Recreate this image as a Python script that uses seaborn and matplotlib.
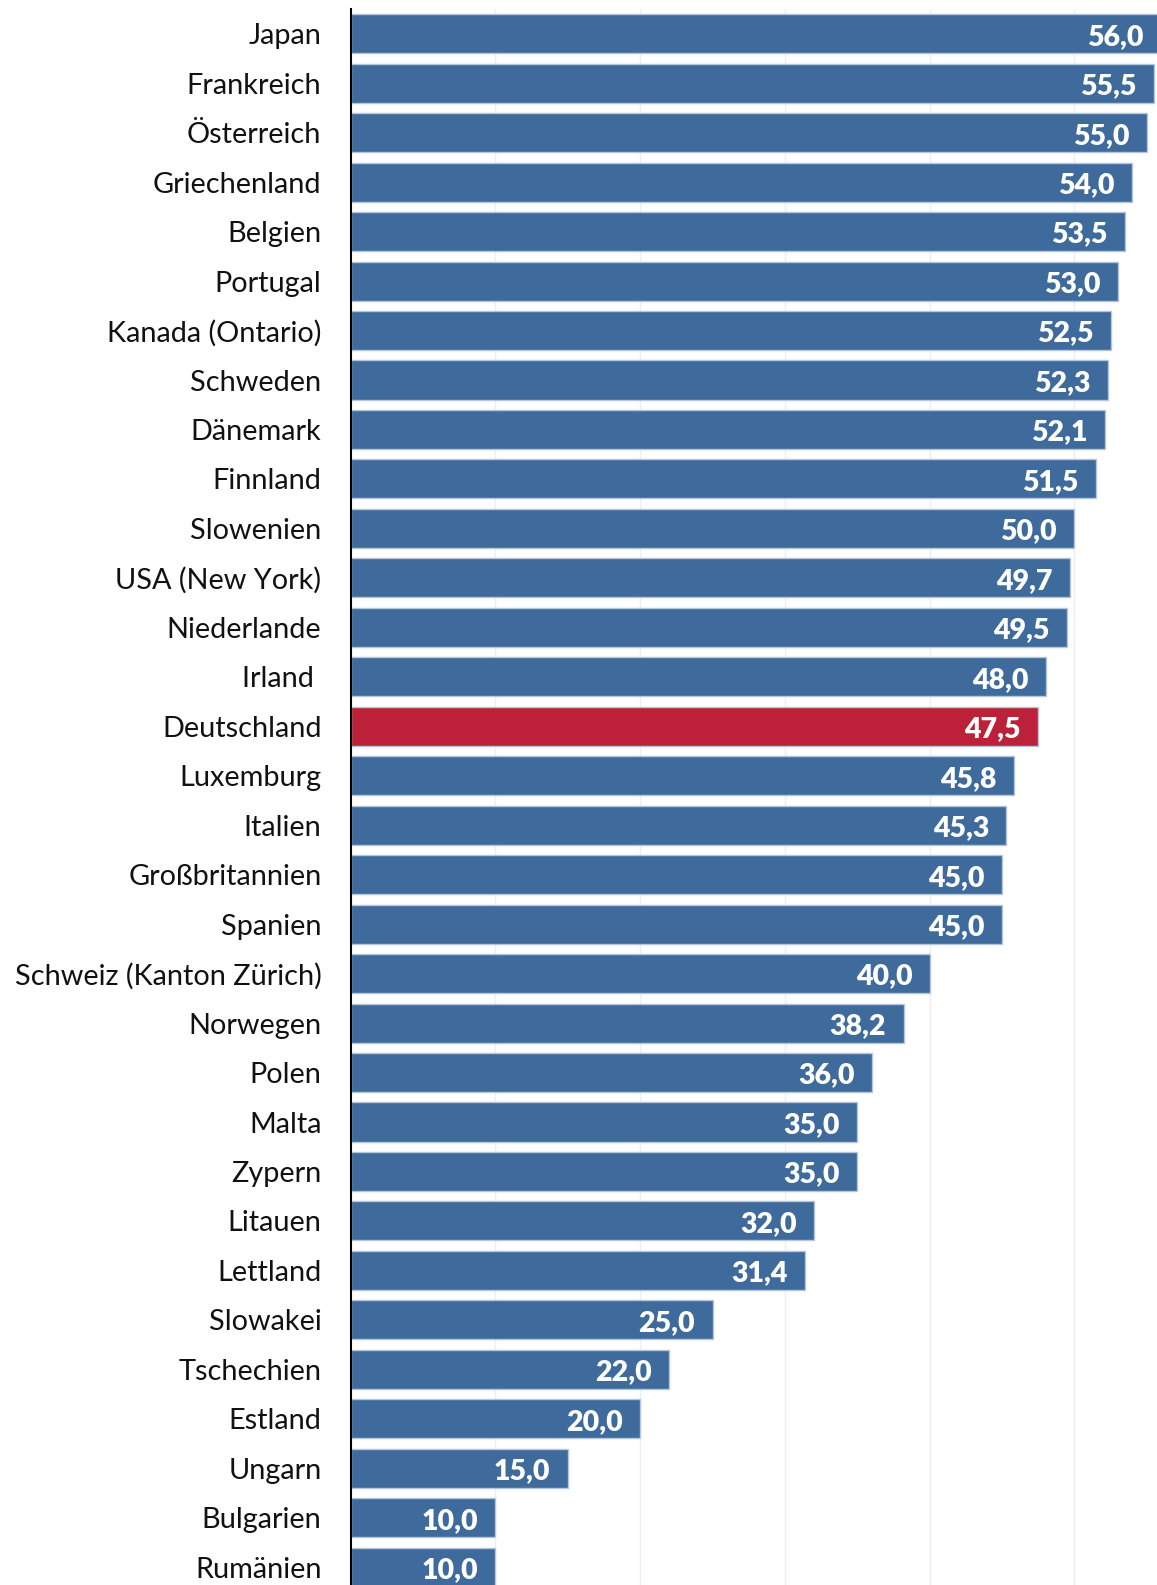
import numpy as np
import pandas as pd
import matplotlib.pyplot as plt
import seaborn as sns

countries = [
    "Japan", "Frankreich", "Österreich", "Griechenland", "Belgien", "Portugal",
    "Kanada (Ontario)", "Schweden", "Dänemark", "Finnland", "Slowenien",
    "USA (New York)", "Niederlande", "Irland ", "Deutschland", "Luxemburg",
    "Italien", "Großbritannien", "Spanien", "Schweiz (Kanton Zürich)",
    "Norwegen", "Polen", "Malta", "Zypern", "Litauen", "Lettland",
    "Slowakei", "Tschechien", "Estland", "Ungarn", "Bulgarien", "Rumänien",
]
values = [
    56.0, 55.5, 55.0, 54.0, 53.5, 53.0, 52.5, 52.3, 52.1, 51.5, 50.0,
    49.7, 49.5, 48.0, 47.5, 45.8, 45.3, 45.0, 45.0, 40.0, 38.2, 36.0,
    35.0, 35.0, 32.0, 31.4, 25.0, 22.0, 20.0, 15.0, 10.0, 10.0,
]
highlight = "Deutschland"

BLUE = "#3E6A9C"
RED = "#BC2139"

df = pd.DataFrame({"Land": countries, "Wert": values})
palette = [RED if c == highlight else BLUE for c in countries]

sns.set_style("white")
plt.rcParams["font.family"] = ["Lato", "DejaVu Sans"]

fig = plt.figure(figsize=(11.57, 15.85), dpi=100)
ax = fig.add_axes([0.303, 0.0, 0.697, 0.9943])

sns.barplot(data=df, x="Wert", y="Land", hue="Land", palette=palette,
            legend=False, width=0.79, saturation=1, edgecolor="#B4C6DC",
            linewidth=1.0, ax=ax, zorder=2)

ax.set_xlim(0, 55.7)
ax.set_ylim(31.36, -0.5)
ax.set_xticks(np.arange(10, 60, 10))
ax.grid(axis="x", color="#EEEEEE", linewidth=1, zorder=0)
ax.set_axisbelow(True)
ax.set_xticklabels([])
ax.tick_params(axis="x", length=0)
ax.tick_params(axis="y", length=0, pad=21, labelsize=20.8, labelcolor="#111111")
ax.set_xlabel("")
ax.set_ylabel("")
for s in ["top", "right", "bottom"]:
    ax.spines[s].set_visible(False)
ax.spines["left"].set_color("black")
ax.spines["left"].set_linewidth(1.5)

for i, v in enumerate(values):
    ax.text(v - 1.2, i + 0.06, f"{v:.1f}".replace(".", ","), ha="right", va="center",
            color="white", fontsize=20.5, fontweight="heavy", zorder=3)

fig.savefig("out.png", dpi=100)
